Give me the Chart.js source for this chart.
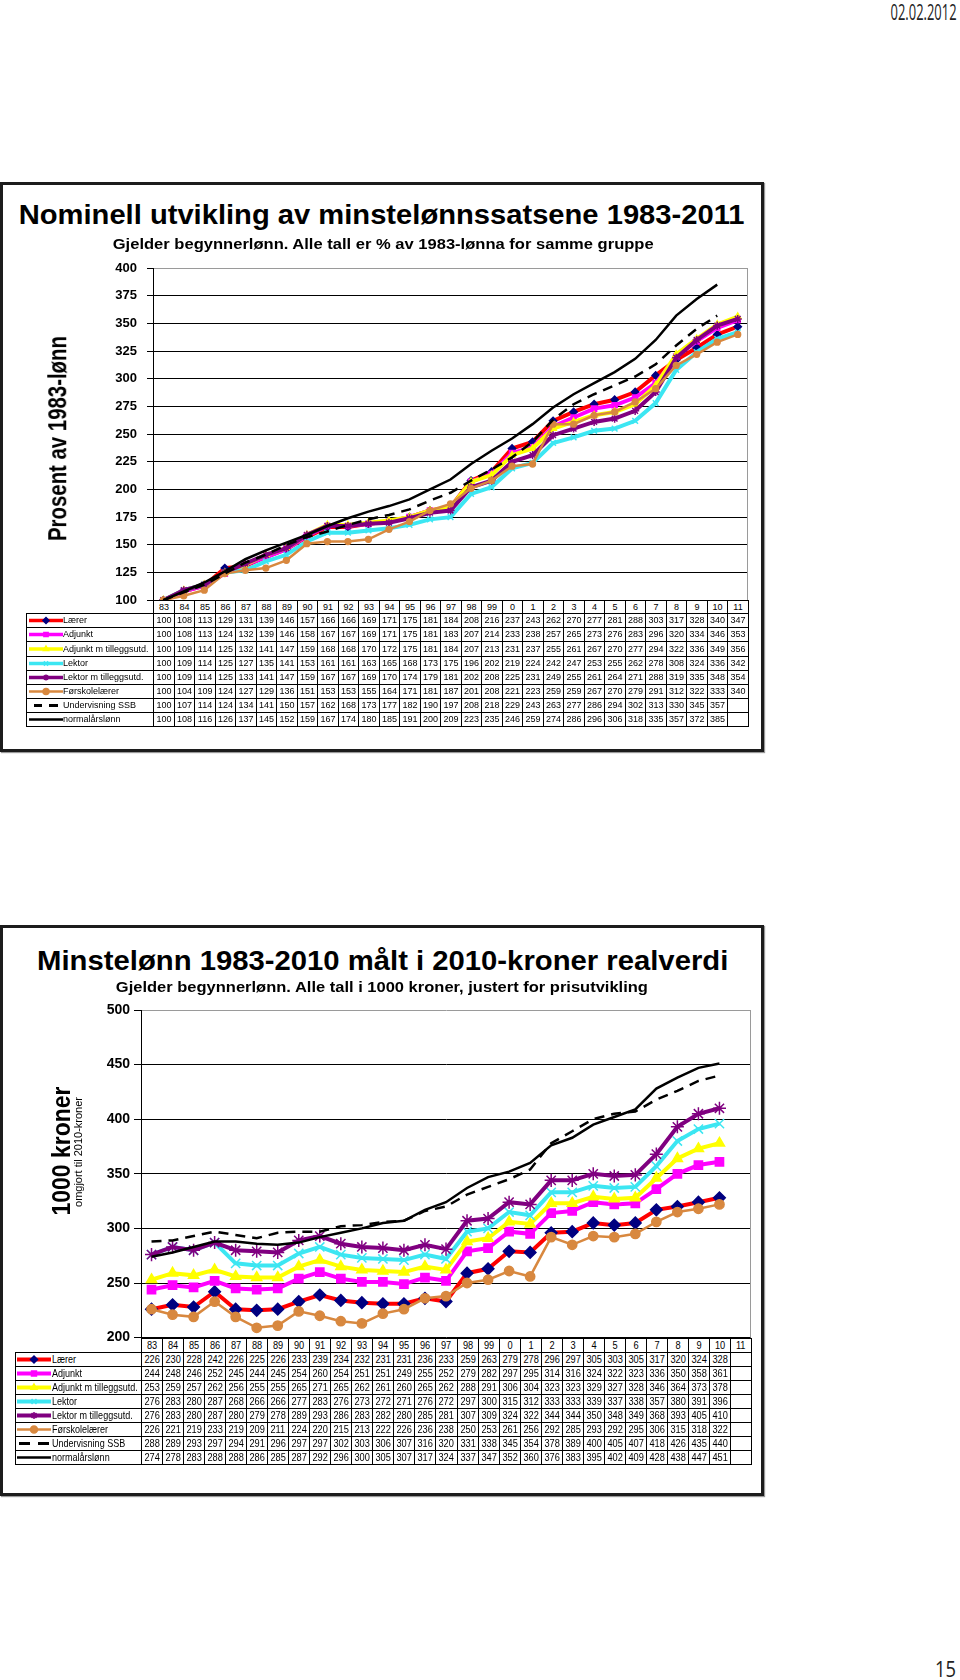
<!DOCTYPE html>
<html>
<head>
<meta charset="utf-8">
<script src="https://cdn.jsdelivr.net/npm/chart.js@4.4.1/dist/chart.umd.min.js"></script>
<style>
html,body{margin:0;padding:0;background:#fff;}
body{position:relative;width:960px;height:1680px;overflow:hidden;font-family:"Liberation Sans",Arial,sans-serif;}
.frame{position:absolute;border:3px solid #1c1c1c;box-sizing:border-box;box-shadow:1px 1px 1px #999;}
.txt{position:absolute;white-space:nowrap;line-height:1;color:#000;transform-origin:50% 50%;}
.cell{position:absolute;box-sizing:border-box;border:1px solid #000;text-align:center;white-space:nowrap;overflow:hidden;color:#000;background:#fff;}
.cell span{display:inline-block;}
.cell canvas{position:absolute;}
canvas{position:absolute;}
</style>
</head>
<body>
<script>
// kategorier (årstall)
const years = ['83','84','85','86','87','88','89','90','91','92','93','94','95','96','97','98','99','0','1','2','3','4','5','6','7','8','9','10','11']
const series_names = ['Lærer','Adjunkt','Adjunkt m tilleggsutd.','Lektor','Lektor m tilleggsutd.','Førskolelærer','Undervisning SSB','normalårslønn']

// Nominell utvikling, % av 1983-lønna
const nom_laerer    = [100,108,113,129,131,139,146,157,166,166,169,171,175,181,184,208,216,237,243,262,270,277,281,288,303,317,328,340,347]
const nom_adjunkt   = [100,108,113,124,132,139,146,158,167,167,169,171,175,181,183,207,214,233,238,257,265,273,276,283,296,320,334,346,353]
const nom_adjunkt_t = [100,109,114,125,132,141,147,159,168,168,170,172,175,181,184,207,213,231,237,255,261,267,270,277,294,322,336,349,356]
const nom_lektor    = [100,109,114,125,127,135,141,153,161,161,163,165,168,173,175,196,202,219,224,242,247,253,255,262,278,308,324,336,342]
const nom_lektor_t  = [100,109,114,125,133,141,147,159,167,167,169,170,174,179,181,202,208,225,231,249,255,261,264,271,288,319,335,348,354]
const nom_forskole  = [100,104,109,124,127,129,136,151,153,153,155,164,171,181,187,201,208,221,223,259,259,267,270,279,291,312,322,333,340]
const nom_ssb       = [100,107,114,124,134,141,150,157,162,168,173,177,182,190,197,208,218,229,243,263,277,286,294,302,313,330,345,357,null]
const nom_normal    = [100,108,116,126,137,145,152,159,167,174,180,185,191,200,209,223,235,246,259,274,286,296,306,318,335,357,372,385,null]

// Minstelønn i 2010-kroner, 1000 kr
const real_laerer    = [226,230,228,242,226,225,226,233,239,234,232,231,231,236,233,259,263,279,278,296,297,305,303,305,317,320,324,328,null]
const real_adjunkt   = [244,248,246,252,245,244,245,254,260,254,251,251,249,255,252,279,282,297,295,314,316,324,322,323,336,350,358,361,null]
const real_adjunkt_t = [253,259,257,262,256,255,255,265,271,265,262,261,260,265,262,288,291,306,304,323,323,329,327,328,346,364,373,378,null]
const real_lektor    = [276,283,280,287,268,266,266,277,283,276,273,272,271,276,272,297,300,315,312,333,333,339,337,338,357,380,391,396,null]
const real_lektor_t  = [276,283,280,287,280,279,278,289,293,286,283,282,280,285,281,307,309,324,322,344,344,350,348,349,368,393,405,410,null]
const real_forskole  = [226,221,219,233,219,209,211,224,220,215,213,222,226,236,238,250,253,261,256,292,285,293,292,295,306,315,318,322,null]
const real_ssb       = [288,289,293,297,294,291,296,297,297,302,303,306,307,316,320,331,338,345,354,378,389,400,405,407,418,426,435,440,null]
const real_normal    = [274,278,283,288,288,286,285,287,292,296,300,305,307,317,324,337,347,352,360,376,383,395,402,409,428,438,447,451,null]

// y-akser: min, max, steg
const nom_axis = [100, 400, 25]
const real_axis = [200, 500, 50]

const line_styles = [
  {color:'#ff0000', width:4, point:'rectRot', fill:'#000080', stroke:'#000080', r:4},
  {color:'#ff00ff', width:4, point:'rect', fill:'#ff00ff', stroke:'#ff00ff', r:4},
  {color:'#ffff00', width:4, point:'triangle', fill:'#ffff00', stroke:'#ffff00', r:4},
  {color:'#3ce6f2', width:4, point:'crossRot', fill:'#3ce6f2', stroke:'#3ce6f2', r:4.5},
  {color:'#800080', width:4, point:'star', fill:'#800080', stroke:'#800080', r:4.5},
  {color:'#d8883f', width:2.5, point:'circle', fill:'#d8883f', stroke:'#d8883f', r:3.2},
  {color:'#000000', width:2.5, point:false, dash:[10,7]},
  {color:'#000000', width:2.5, point:false}
]

const add = (el) => { document.body.appendChild(el); return el }

const frame = (x, y, w, h) => {
  const d = add(document.createElement('div'))
  d.className = 'frame'
  d.style.left = x+'px'; d.style.top = y+'px'
  d.style.width = w+'px'; d.style.height = h+'px'
}

const put_text = (text, cx, cy, size, width, opts) => {
  opts = opts || {}
  const d = add(document.createElement('div'))
  d.className = 'txt'
  d.textContent = text
  d.style.fontSize = size+'px'
  d.style.fontFamily = opts.family || '"Liberation Sans", Arial, sans-serif'
  d.style.fontWeight = opts.weight || 'bold'
  if (opts.color) d.style.color = opts.color
  const r = d.getBoundingClientRect()
  d.style.left = (cx - r.width/2)+'px'
  d.style.top = (cy - r.height/2)+'px'
  const sx = width / r.width
  d.style.transform = (opts.rotate ? 'rotate(-90deg) ' : '') + 'scaleX('+sx.toFixed(3)+')'
}

// grå høyre kant på plottet
const plotBorder = {
  id: 'plotBorder',
  beforeDatasetsDraw(chart) {
    const a = chart.chartArea, ctx = chart.ctx
    ctx.save()
    ctx.strokeStyle = '#9a9a9a'
    ctx.lineWidth = 1
    ctx.beginPath()
    ctx.moveTo(Math.round(a.right)-0.5, a.top)
    ctx.lineTo(Math.round(a.right)-0.5, a.bottom)
    ctx.stroke()
    ctx.restore()
  }
}

const create_chart = (cfg) => {
  const cv = add(document.createElement('canvas'))
  cv.width = cfg.w; cv.height = cfg.h
  cv.style.left = cfg.x+'px'; cv.style.top = cfg.y+'px'
  const datasets = cfg.data.map((vals, i) => {
    const s = line_styles[i]
    return {
      label: series_names[i],
      data: vals,
      order: cfg.data.length - i,
      borderColor: s.color,
      borderWidth: s.width,
      borderDash: s.dash || [],
      pointStyle: s.point,
      pointRadius: s.point ? s.r*cfg.pscale : 0,
      pointBackgroundColor: s.fill,
      pointBorderColor: s.stroke,
      pointBorderWidth: 1.5,
      tension: 0,
      fill: false
    }
  })
  const [ymin, ymax, ystep] = cfg.axis
  return new Chart(cv.getContext('2d'), {
    type: 'line',
    data: { labels: years, datasets: datasets },
    plugins: [plotBorder],
    options: {
      responsive: false,
      maintainAspectRatio: false,
      animation: false,
      devicePixelRatio: 1,
      layout: { padding: { top: cfg.padTop, right: cfg.padRight, bottom: 10, left: 0 } },
      plugins: { legend: { display: false }, tooltip: { enabled: false } },
      scales: {
        x: {
          offset: true,
          grid: { display: false, drawTicks: false },
          border: { display: false },
          ticks: { display: false },
          afterFit: (s) => { s.height = 0 }
        },
        y: {
          min: ymin, max: ymax,
          ticks: { stepSize: ystep, padding: cfg.tickPad, color: '#000',
                   font: { family: '"Liberation Sans", Arial, sans-serif', size: cfg.tickSize, weight: 'bold' } },
          grid: { color: (c) => c.tick.value === ymax ? '#9a9a9a' : '#000', tickLength: cfg.tickLen, tickColor: '#000', lineWidth: 1 },
          border: { color: '#000', width: 1 },
          afterFit: (s) => { s.width = cfg.axisW }
        }
      }
    }
  })
}

// lag diagrammet, og juster lerretet en gang slik at plottet havner der det skal
const make_chart = (cfg) => {
  let chart = create_chart(cfg)
  const ca = chart.chartArea
  const dTop = cfg.areaTop - (cfg.y + ca.top)
  const dBot = cfg.areaBottom - (cfg.y + ca.bottom)
  if (Math.abs(dTop) > 0.3 || Math.abs(dBot) > 0.3) {
    const cv = chart.canvas
    chart.destroy()
    cv.remove()
    cfg.padTop += dTop
    cfg.h += dBot
    chart = create_chart(cfg)
  }
  return chart
}

const cell = (x0, y0, x1, y1, text, font, sx, origin) => {
  const d = add(document.createElement('div'))
  d.className = 'cell'
  const l = Math.round(x0), t = Math.round(y0)
  const w = Math.round(x1) - l + 1, h = Math.round(y1) - t + 1
  d.style.left = l+'px'; d.style.top = t+'px'
  d.style.width = w+'px'; d.style.height = h+'px'
  d.style.font = font
  d.style.lineHeight = (h-2)+'px'
  const sp = document.createElement('span')
  sp.textContent = text
  if (sx && sx !== 1) {
    sp.style.transform = 'scaleX('+sx+')'
    sp.style.transformOrigin = origin || '50% 50%'
  }
  d.appendChild(sp)
  return d
}

const swatch = (parent, i, cfg, h) => {
  const s = line_styles[i]
  const cv = document.createElement('canvas')
  cv.width = cfg.swW; cv.height = h
  cv.style.left = cfg.swX+'px'; cv.style.top = '0px'
  parent.appendChild(cv)
  const ctx = cv.getContext('2d')
  const my = h/2
  ctx.strokeStyle = s.color
  ctx.lineWidth = s.dash ? 3 : (s.width === 4 ? cfg.swLine : 2.5)
  if (s.dash) {
    cfg.dashes.forEach(d => { ctx.beginPath(); ctx.moveTo(d[0], my); ctx.lineTo(d[1], my); ctx.stroke() })
  } else {
    ctx.beginPath(); ctx.moveTo(0, my); ctx.lineTo(cfg.swW, my); ctx.stroke()
  }
  if (s.point && Chart.helpers && Chart.helpers.drawPoint) {
    ctx.fillStyle = s.fill
    ctx.strokeStyle = s.stroke
    ctx.lineWidth = 1.5
    Chart.helpers.drawPoint(ctx, { pointStyle: s.point, radius: cfg.swR, rotation: 0, borderWidth: 1.5 }, cfg.swW/2, my)
  }
}

const build_table = (chart, cfg, data) => {
  const xs = chart.scales.x
  const ox = parseFloat(chart.canvas.style.left), oy = parseFloat(chart.canvas.style.top)
  const half = (xs.getPixelForValue(1) - xs.getPixelForValue(0)) / 2
  const edges = years.map((y, i) => ox + xs.getPixelForValue(i) - half)
  edges.push(ox + xs.getPixelForValue(years.length-1) + half)
  const top = oy + chart.chartArea.bottom
  years.forEach((y, i) => cell(edges[i], top, edges[i+1], top + cfg.headH, y, cfg.numFont, cfg.numScale))
  data.forEach((vals, r) => {
    const y0 = top + cfg.headH + r*cfg.rowH, y1 = y0 + cfg.rowH
    const lab = cell(cfg.left, y0, edges[0], y1, series_names[r], cfg.labFont, cfg.labScale, '0 50%')
    lab.style.textAlign = 'left'
    lab.style.paddingLeft = cfg.textX+'px'
    swatch(lab, r, cfg, Math.round(y1) - Math.round(y0) - 1)
    vals.forEach((v, i) => cell(edges[i], y0, edges[i+1], y1, v === null ? '' : String(v), cfg.numFont, cfg.numScale))
  })
}

// rammer
frame(0, 182, 764, 570)
frame(0, 925, 764, 571)

// Figur 1: nominell utvikling
const nom_data = [nom_laerer, nom_adjunkt, nom_adjunkt_t, nom_lektor, nom_lektor_t, nom_forskole, nom_ssb, nom_normal]
const chart1 = make_chart({ x: 0, y: 250, w: 760, h: 361, padTop: 18, padRight: 12, axisW: 153,
  areaTop: 268, areaBottom: 601,
  tickPad: 10, tickLen: 6, tickSize: 13, pscale: 0.9, axis: nom_axis, data: nom_data })
build_table(chart1, { left: 26, headH: 13, rowH: 14.1, numFont: '9px "Liberation Sans", Arial, sans-serif', numScale: 1,
  labFont: '9px "Liberation Sans", Arial, sans-serif', labScale: 1, textX: 36, swX: 2, swW: 34, swLine: 3.5, swR: 3,
  dashes: [[5,13],[20,29]] }, nom_data)

// Figur 2: realverdi
const real_data = [real_laerer, real_adjunkt, real_adjunkt_t, real_lektor, real_lektor_t, real_forskole, real_ssb, real_normal]
const chart2 = make_chart({ x: 0, y: 990, w: 760, h: 358, padTop: 20, padRight: 9, axisW: 141,
  areaTop: 1010, areaBottom: 1338,
  tickPad: 4, tickLen: 7, tickSize: 14, pscale: 1.45, axis: real_axis, data: real_data })
build_table(chart2, { left: 15, headH: 14, rowH: 14.1, numFont: '11px "Liberation Sans", Arial, sans-serif', numScale: 0.84,
  labFont: '11px "Liberation Sans", Arial, sans-serif', labScale: 0.82, textX: 36, swX: 1, swW: 34, swLine: 4, swR: 3.5,
  dashes: [[2,13],[21,32]] }, real_data)

// tekster
put_text('Nominell utvikling av minstelønnssatsene 1983-2011', 382, 215, 28, 726)
put_text('Gjelder begynnerlønn. Alle tall er % av 1983-lønna for samme gruppe', 383, 243, 15, 541)
put_text('Prosent av 1983-lønn', 58, 438, 25, 205, { rotate: true })
put_text('Minstelønn 1983-2010 målt i 2010-kroner realverdi', 383, 961, 28, 691)
put_text('Gjelder begynnerlønn. Alle tall i 1000 kroner, justert for prisutvikling', 382, 986, 15, 532)
put_text('1000 kroner', 61, 1151, 26, 129, { rotate: true })
put_text('omgjort til 2010-kroner', 79, 1152, 10, 110, { rotate: true, weight: 'normal' })
put_text('02.02.2012', 924, 12, 21, 66, { family: '"Open Sans", sans-serif', weight: 'normal', color: '#222' })
put_text('15', 946, 1668, 22, 21, { family: '"Open Sans", sans-serif', weight: 'normal', color: '#222' })
</script>
</body>
</html>
